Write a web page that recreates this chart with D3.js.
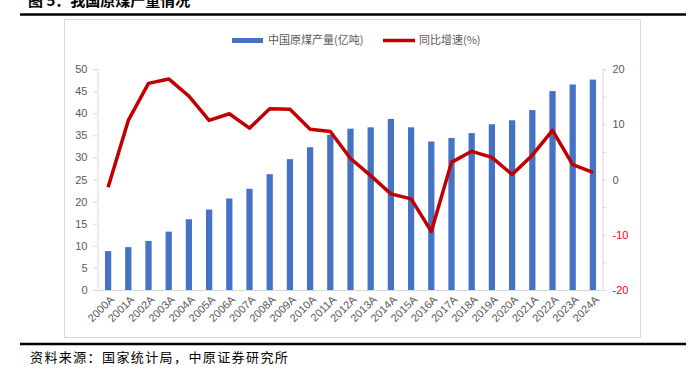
<!DOCTYPE html>
<html>
<head>
<meta charset="utf-8">
<script src="https://cdn.jsdelivr.net/npm/d3@7"></script>
<style>
  body { margin: 0; background: #fff; }
  svg { display: block; font-family: "Noto Sans CJK SC", "Noto Sans", sans-serif; }
</style>
</head>
<body>
<svg id="chart" width="696" height="374"></svg>
<script>
// data
let years = ["2000A", "2001A", "2002A", "2003A", "2004A", "2005A", "2006A", "2007A",
  "2008A", "2009A", "2010A", "2011A", "2012A", "2013A", "2014A", "2015A", "2016A",
  "2017A", "2018A", "2019A", "2020A", "2021A", "2022A", "2023A", "2024A"];
let output = [8.8, 9.7, 11.1, 13.2, 16.0, 18.2, 20.7, 22.9, 26.2, 29.6, 32.3, 35.1,
  36.5, 36.8, 38.7, 36.8, 33.6, 34.4, 35.5, 37.5, 38.4, 40.7, 45.0, 46.5, 47.6];
let growth = [-1.4, 10.7, 17.4, 18.2, 15.1, 10.7, 11.9, 9.3, 12.8, 12.7, 9.1, 8.7,
  3.8, 0.7, -2.6, -3.5, -9.4, 3.1, 5.1, 4.0, 0.9, 4.4, 8.9, 2.7, 1.3];
let leftTicks = [0, 5, 10, 15, 20, 25, 30, 35, 40, 45, 50];
let rightTicks = [-20, -15, -10, -5, 0, 5, 10, 15, 20];
let rightLabels = [-20, -10, 0, 10, 20];

let svg = d3.select("#chart");
let AXIS = "#d9d9d9";
let TEXT = "#595959";

// page decoration
svg.append("text")
  .attr("x", 28).attr("y", 6)
  .attr("font-size", 15).attr("font-weight", "bold").attr("fill", "#000")
  .text("图 5：我国原煤产量情况");
svg.append("line").attr("x1", 20).attr("x2", 686).attr("y1", 14.5).attr("y2", 14.5)
  .attr("stroke", "#000").attr("stroke-width", 2.5);
svg.append("rect").attr("x", 64.5).attr("y", 19.5).attr("width", 576).attr("height", 318)
  .attr("fill", "none").attr("stroke", AXIS);
svg.append("line").attr("x1", 20).attr("x2", 686).attr("y1", 344).attr("y2", 344)
  .attr("stroke", "#000").attr("stroke-width", 2.5);
svg.append("text")
  .attr("x", 30).attr("y", 362)
  .attr("font-size", 13).attr("letter-spacing", 1.4).attr("fill", "#000")
  .text("资料来源：国家统计局，中原证券研究所");

// scales
let x = d3.scaleBand().domain(years).range([98, 603]).paddingInner(0.69).paddingOuter(0.345);
let yL = d3.scaleLinear().domain([0, 50]).range([290, 69]);
let yR = d3.scaleLinear().domain([-20, 20]).range([290, 69]);

// left axis
let gL = svg.append("g").attr("transform", "translate(97.5,0)")
  .call(d3.axisLeft(yL).tickValues(leftTicks).tickSize(4).tickPadding(6));
gL.select(".domain").attr("stroke", AXIS);
gL.selectAll(".tick line").attr("stroke", AXIS);
gL.selectAll(".tick text").attr("fill", TEXT).attr("font-size", 11).attr("font-family", "Liberation Sans, Arial, sans-serif");

// right axis
let gR = svg.append("g").attr("transform", "translate(602.5,0)")
  .call(d3.axisRight(yR).tickValues(rightTicks).tickSize(4).tickPadding(6)
    .tickFormat(d => rightLabels.includes(d) ? d : ""));
gR.select(".domain").attr("stroke", AXIS);
gR.selectAll(".tick line").attr("stroke", AXIS);
gR.selectAll(".tick text")
  .attr("fill", d => d < 0 ? "#ff0000" : TEXT)
  .attr("font-size", 11).attr("font-family", "Liberation Sans, Arial, sans-serif");

// bottom axis
let gX = svg.append("g").attr("transform", "translate(0,290.5)")
  .call(d3.axisBottom(x).tickSize(0).tickPadding(0));
gX.select(".domain").attr("stroke", AXIS).attr("d", "M98,0H603");
gX.selectAll(".tick text")
  .attr("fill", TEXT).attr("font-size", 11)
  .attr("font-family", "Liberation Sans, Arial, sans-serif")
  .attr("text-anchor", "end")
  .attr("transform", "translate(4,7) rotate(-45)")
  .attr("dy", "0.35em");

// bars
svg.append("g").selectAll("rect")
  .data(output)
  .enter()
  .append("rect")
  .attr("x", (d, i) => x(years[i]))
  .attr("width", x.bandwidth())
  .attr("y", d => yL(d))
  .attr("height", d => yL(0) - yL(d))
  .attr("fill", "#4472c4");

// growth line
let line = d3.line()
  .x((d, i) => x(years[i]) + x.bandwidth() / 2)
  .y(d => yR(d));
svg.append("path")
  .datum(growth)
  .attr("d", line)
  .attr("fill", "none")
  .attr("stroke", "#c00000")
  .attr("stroke-width", 3.5)
  .attr("stroke-linejoin", "round");

// legend
let legend = svg.append("g").attr("font-size", 11).attr("fill", TEXT);
legend.append("rect").attr("x", 232).attr("y", 38).attr("width", 31).attr("height", 5)
  .attr("fill", "#4472c4");
legend.append("text").attr("x", 268).attr("y", 44).attr("fill", TEXT).text("中国原煤产量(亿吨)");
legend.append("line").attr("x1", 383).attr("x2", 415).attr("y1", 40.5).attr("y2", 40.5)
  .attr("stroke", "#c00000").attr("stroke-width", 3.5);
legend.append("text").attr("x", 419).attr("y", 44).attr("fill", TEXT).text("同比增速(%)");
</script>
</body>
</html>
